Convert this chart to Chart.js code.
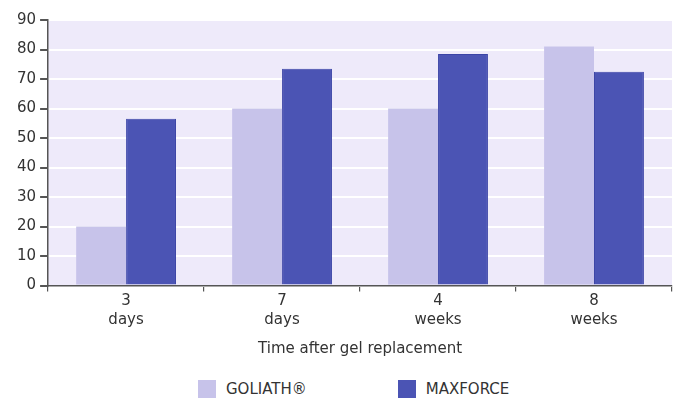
<!DOCTYPE html>
<html>
<head>
<meta charset="utf-8">
<script src="https://cdn.jsdelivr.net/npm/chart.js@4/dist/chart.umd.min.js"></script>
<style>
body{margin:0;background:#fff;font-family:"DejaVu Sans",sans-serif;}
#wrap{position:relative;width:674px;height:400px;}
#legend{position:absolute;left:198px;top:380px;display:flex;font-size:15px;color:#333;}
.item{display:flex;align-items:center;margin-right:91px;}
.box{width:18px;height:18px;margin-right:10px;}
</style>
</head>
<body>
<div id="wrap">
<canvas id="chart" width="674" height="362"></canvas>
<div id="legend"></div>
</div>
<script>
// data
let categories = [["3","days"],["7","days"],["4","weeks"],["8","weeks"]];
let seriesNames = ["GOLIATH\u00AE","MAXFORCE"];
let goliath = [20, 60, 60, 81];
let maxforce = [56.5, 73.5, 78.5, 72.5];
let yTicks = [0,10,20,30,40,50,60,70,80,90];

let colors = ["#c7c3ea","#4b54b4"];
let fontName = "DejaVu Sans";

// lavender plot background
let bgPlugin = {
  id: "plotBg",
  beforeDraw: function(chart){
    let a = chart.chartArea;
    let c = chart.ctx;
    c.save();
    c.fillStyle = "#eeeafa";
    c.fillRect(a.left, a.top, a.right - a.left, a.bottom - a.top);
    c.restore();
  }
};

let ctx = document.getElementById("chart");

let chart = new Chart(ctx, {
  type: "bar",
  data: {
    labels: categories,
    datasets: [
      {label: seriesNames[0], data: goliath, backgroundColor: colors[0], borderWidth: 0},
      {label: seriesNames[1], data: maxforce, backgroundColor: colors[1], borderColor: "#3b44a6", borderWidth: 1}
    ]
  },
  options: {
    responsive: false,
    animation: false,
    layout: {padding: {top: 20, right: 2, left: 13, bottom: 0}},
    datasets: {bar: {categoryPercentage: 0.64, barPercentage: 1}},
    plugins: {
      legend: {display: false},
      tooltip: {enabled: false}
    },
    scales: {
      x: {
        grid: {drawOnChartArea: false, tickColor: "#555", tickLength: 6, lineWidth: 1.2},
        border: {color: "#555", width: 1.5},
        ticks: {color: "#333", font: {family: fontName, size: 15, lineHeight: 1.25}, padding: 0},
        title: {display: true, text: "Time after gel replacement", color: "#333",
                font: {family: fontName, size: 15}, padding: {top: 11}}
      },
      y: {
        min: 0, max: 90,
        afterBuildTicks: function(scale){
          scale.ticks = yTicks.map(function(v){ return {value: v}; });
        },
        grid: {color: "#ffffff", lineWidth: 2, tickColor: "#555", tickLength: 8},
        border: {color: "#555", width: 1.5},
        ticks: {color: "#333", font: {family: fontName, size: 15}, padding: 4}
      }
    }
  },
  plugins: [bgPlugin]
});

// legend below chart
let legend = document.getElementById("legend");
chart.data.datasets.forEach(function(ds){
  let item = document.createElement("div");
  item.className = "item";
  let box = document.createElement("div");
  box.className = "box";
  box.style.background = ds.backgroundColor;
  let txt = document.createElement("span");
  txt.innerText = ds.label;
  item.appendChild(box);
  item.appendChild(txt);
  legend.appendChild(item);
});
</script>
</body>
</html>
